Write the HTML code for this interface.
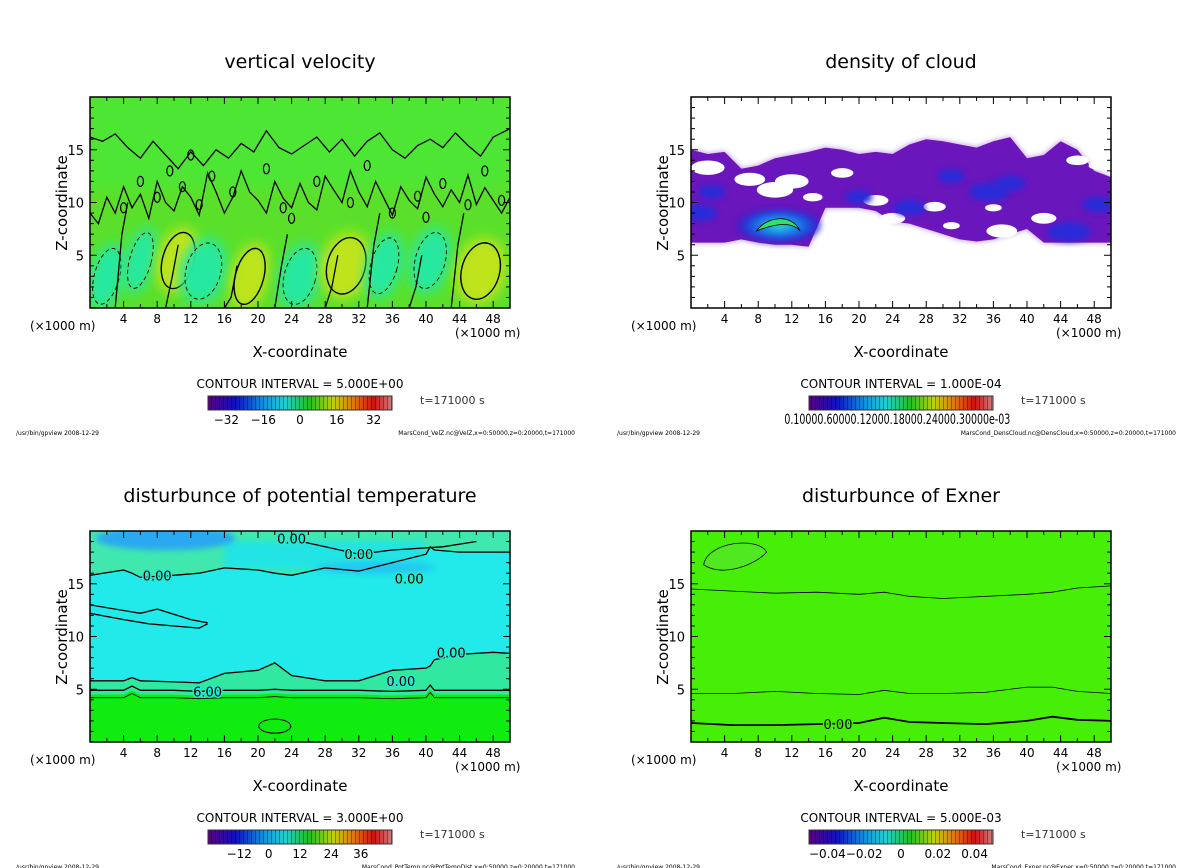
<!DOCTYPE html>
<html><head><meta charset="utf-8">
<style>
html,body{margin:0;padding:0;background:#fff;}
svg{display:block;font-family:"DejaVu Sans","Liberation Sans",sans-serif;}
</style></head>
<body>
<svg id="fig" width="1200" height="868" viewBox="0 0 1200 868" xmlns="http://www.w3.org/2000/svg">
<defs>
<filter id="blur6" x="-50%" y="-50%" width="200%" height="200%"><feGaussianBlur stdDeviation="6"/></filter>
<filter id="blur3" x="-50%" y="-50%" width="200%" height="200%"><feGaussianBlur stdDeviation="3"/></filter>
<linearGradient id="cbar" x1="0" x2="1" y1="0" y2="0">
<stop offset="0" stop-color="#5a0080"/><stop offset="0.15" stop-color="#1010c0"/><stop offset="0.3" stop-color="#1090e0"/>
<stop offset="0.42" stop-color="#20d0d0"/><stop offset="0.55" stop-color="#20c020"/><stop offset="0.68" stop-color="#c0d010"/>
<stop offset="0.8" stop-color="#e07010"/><stop offset="0.9" stop-color="#d01010"/><stop offset="1" stop-color="#d08080"/>
</linearGradient>
<radialGradient id="cloudcore"><stop offset="0" stop-color="#30e0a0"/><stop offset="0.3" stop-color="#20a0f0"/><stop offset="0.7" stop-color="#1a50e0"/><stop offset="1" stop-color="#2a20c8" stop-opacity="0.6"/></radialGradient>
<pattern id="stripes" width="4" height="10" patternUnits="userSpaceOnUse"><rect x="3" width="1" height="10" fill="rgba(0,0,0,0.35)"/></pattern>
</defs>
</svg>
<script>
// ---- data (x in km, z in km) ----
const xTicks=[4,8,12,16,20,24,28,32,36,40,44,48];
const zTicks=[5,10,15];
// vertical velocity anomalies
const wX=[2,6,10.5,13.5,19,25,30.5,35,40.5,46.5];
const wZ=[3,4.5,4.5,3.5,3,3,4,4,4.5,3.5];
const wV=[-6,-4,10,-12,8,-10,14,-7,-9,14];
// irregular zero contours of w (hand-read)
const wLowX=[0,1,2,3,4,5,6,7,8,9,10,11,12,13,14,15,16,17,18,19,20,21,22,23,24,25,26,27,28,29,30,31,32,33,34,35,36,37,38,39,40,41,42,43,44,45,46,47,48,49,50];
const wLowZ=[9,8,10.5,9,11.5,9.5,10.8,8.5,12,10,9.2,11.5,10.5,8.8,12.8,11,9,10.5,13,11,10.2,9,12,10.4,9.5,11.8,10,9.3,12.5,11.2,10,13,11,9.6,12,10.4,8.8,11.5,10.2,9.4,12.4,10.8,9.6,11.2,10,12.6,9.8,11.4,10.2,9,10.5];
const wHiX=[0,1.5,3,4.5,6,7.5,9,10.5,12,13.5,15,16.5,18,19.5,21,22.5,24,25.5,27,28.5,30,31.5,33,34.5,36,37.5,39,40.5,42,43.5,45,46.5,48,50];
const wHiZ=[16.2,15.8,16.5,15.2,14.2,15.8,14.5,13.2,14.8,13.5,15,14.2,15.6,14.8,16.8,15.2,14.6,15.4,16.2,14.8,16,14.4,15.8,16.6,15,14.2,15.4,16,15.2,16.6,15.4,14.4,16.2,17];
const wLoopX=[4,6,8,9.5,11,12,13,14.5,17,21,23,24,27,31,33,36,39,40,42,45,47,49];
const wLoopZ=[9.5,12,10.5,13,11.5,14.5,9.8,12.5,11,13.2,9.5,8.5,12,10,13.5,9,10.6,8.6,11.8,9.8,13,10.2];
// cloud band top/bottom
const cloudXs=[0,2,4,6,8,10,12,14,16,18,20,22,24,26,28,30,32,34,36,38,40,42,44,46,48,50];
const cloudTop=[15,14.6,14.8,13.2,13.5,14.2,14.5,14.8,15.2,15,14.6,14.8,14.6,15.5,16,15.8,15.5,15.2,15.8,16.2,14.2,14.5,15.8,15,13,12.4];
const cloudBot=[6.2,6.2,6.2,6.5,6.2,6,6,5.8,9.5,9.5,9.5,9.2,8.2,8,7.5,7,6.5,6.3,6.5,7,7.5,6.2,6.2,6.2,6.2,6.2];
const cblobX=[1,10.5,20,26,35.5,38,48.5,45,31,2.5];
const cblobZ=[9,7.8,10.5,9.5,11,11.8,9.8,7.2,12.5,11];
const cblobV=[1.8,5,1.2,1.6,2.2,1.5,1.6,2.4,1.2,1.2];
const holeX=[2,7,10,12,18,22,24,29,37,42,46,48.5,31,14.5,36];
const holeZ=[13.3,12.2,11.2,12,12.8,10.2,8.5,9.6,7.3,8.5,14,13.5,7.8,10.5,9.5];
const holeR=[1.2,1.1,1.3,1.2,0.8,0.9,0.9,0.8,1.1,0.9,0.8,0.7,0.6,0.7,0.6];
// potential temperature interfaces
const thX=[0,4,5,6,10,13,16,20,22,24,28,32,36,40,40.5,41,44,48,50];
const thBand=[4.5,4.5,4.9,4.5,4.5,4.4,4.5,4.5,4.6,4.5,4.5,4.5,4.4,4.5,5,4.5,4.5,4.5,4.5];
const thZero=[5.8,5.8,6.1,5.8,5.7,5.6,6.5,6.8,7.5,6.3,5.8,5.8,6.8,7,7.2,7.8,8.3,8.5,8.4];
const thUpper=[15.8,16.3,16,15.6,15.8,16,16.5,16.3,16,15.8,16.5,16.2,17,17.8,18.5,18.2,18,18,18];
// exner contours
const exX=[0,5,10,15,20,23,26,30,35,40,43,46,50];
const exLow=[1.8,1.6,1.6,1.7,1.8,2.3,1.9,1.8,1.7,2,2.4,2.1,2];
const exMid=[4.6,4.6,4.8,4.6,4.5,4.9,4.6,4.6,4.7,5.2,5.2,4.8,4.6];
const exHi=[14.5,14.3,14.1,14.2,14,14.2,13.8,13.6,13.8,14,14.2,14.6,14.8];

const svg=document.getElementById('fig');
const NS='http://www.w3.org/2000/svg';
function mk(tag,attrs,parent){const e=document.createElementNS(NS,tag);for(const k in attrs)e.setAttribute(k,attrs[k]);(parent||svg).appendChild(e);return e;}
function txt(x,y,s,size,anchor,parent,extra){const t=mk('text',Object.assign({x:x,y:y,'font-size':size,'text-anchor':anchor||'middle',fill:'#000'},extra||{}),parent);t.textContent=s;return t;}

function panel(ox,oy,title,name){
  const L=90+ox,R=510+ox,T=97+oy,B=308+oy;
  const sx=v=>L+(R-L)*v/50, sz=v=>B-(B-T)*v/20;
  const g=mk('g',{});
  
  
  const clipId='clip'+name;
  const cp=mk('clipPath',{id:clipId},g);mk('rect',{x:L,y:T,width:R-L,height:B-T},cp);
  const plot=mk('g',{'clip-path':'url(#'+clipId+')'},g);
  
  
  return {g,plot,L,R,T,B,sx,sz,ox,oy,title,name};
}
function frame(p,cbLabels,cbPos,ci,file,cbExtra){
  const {g,L,R,T,B,sx,sz,ox,oy}=p;
  const f=mk('rect',{x:L,y:T,width:R-L,height:B-T,fill:'none',stroke:'#000','stroke-width':1.5},g);
  
  for(let v=2;v<50;v+=2){const x=sx(v),len=(v%4==0)?7:4;mk('line',{x1:x,x2:x,y1:B,y2:B-len,stroke:'#000'},g);mk('line',{x1:x,x2:x,y1:T,y2:T+len,stroke:'#000'},g);}
  for(let v=1;v<20;v++){const y=sz(v),len=(v%5==0)?7:4;mk('line',{x1:L,x2:L+len,y1:y,y2:y,stroke:'#000'},g);mk('line',{x1:R,x2:R-len,y1:y,y2:y,stroke:'#000'},g);}
  xTicks.forEach(v=>{const t=txt(sx(v),B+15,String(v),12,'middle',g);});
  zTicks.forEach(v=>{const t=txt(L-6,sz(v)+5,String(v),13,'end',g);});
  let t=txt(30+ox,B+22,'(×1000 m)',12,'start',g);
  t=txt(455+ox,B+29,'(×1000 m)',12,'start',g);
  t=txt(300+ox,B+49,'X-coordinate',15,'middle',g);
  t=txt(0,0,'Z-coordinate',15,'middle',g,{transform:'translate('+(67+ox)+','+(203+oy)+') rotate(-90)'});
  t=txt(300+ox,68+oy,p.title,19,'middle',g);
  t=txt(300+ox,388+oy,'CONTOUR INTERVAL = '+ci,12,'middle',g);
  const cb=mk('g',{},g);
  mk('rect',{x:208+ox,y:396+oy,width:184,height:14,fill:'url(#cbar)'},cb);
  mk('rect',{x:208+ox,y:396+oy,width:184,height:14,fill:'url(#stripes)'},cb);
  mk('rect',{x:208+ox,y:396+oy,width:184,height:14,fill:'none',stroke:'#333'},cb);
  cbLabels.forEach((s,i)=>{const tt=txt(208+ox+184*cbPos[i],424+oy,s,12,'middle',cb,cbExtra||{});});
  t=txt(420+ox,404+oy,'t=171000 s',11,'start',g,{fill:'#333'});
  t=txt(16+ox,435+oy,'/usr/bin/gpview  2008-12-29',6,'start',g);
  t=txt(575+ox,435+oy,file,6,'end',g);
}
function line(p,xs,zs,attrs){
  const d=xs.map((v,i)=>(i?'L':'M')+p.sx(v).toFixed(1)+','+p.sz(zs[i]).toFixed(1)).join(' ');
  return mk('path',Object.assign({d:d,fill:'none',stroke:'#000','stroke-width':1.3},attrs||{}),p.plot);
}

// ---- Panel 1: vertical velocity ----
const p1=panel(0,0,'vertical velocity','vertical-velocity');
mk('rect',{x:p1.L,y:p1.T,width:420,height:211,fill:'#5ae02a'},p1.plot);
mk('rect',{x:p1.L,y:p1.T,width:420,height:90,fill:'#4ee634',filter:'url(#blur6)'},p1.plot);
wX.forEach((x,i)=>{
  const c=wV[i]>0?'#c0e41c':'#28e8a0';const rx=Math.abs(wV[i])*0.13+1.2, rz=3.2;
  const cx=p1.sx(x),cy=p1.sz(wZ[i]),RX=p1.sx(rx)-p1.L,RY=p1.B-p1.sz(rz);
  const e=mk('ellipse',{cx:cx,cy:cy,rx:RX,ry:RY,fill:c,filter:'url(#blur6)',transform:`rotate(15 ${cx} ${cy})`},p1.plot);
  
  const o=mk('ellipse',{cx:cx,cy:cy,rx:RX*0.75,ry:RY*0.85,fill:'none',stroke:'#000','stroke-width':wV[i]>0?1.4:0.9,'stroke-dasharray':wV[i]>0?'none':'4,3',transform:`rotate(15 ${cx} ${cy})`},p1.plot);
  
});
line(p1,wLowX,wLowZ);
line(p1,wHiX,wHiZ);
wLoopX.forEach((x,i)=>{const c=mk('ellipse',{cx:p1.sx(x),cy:p1.sz(wLoopZ[i]),rx:3,ry:5,fill:'none',stroke:'#000','stroke-width':1.2},p1.plot);});
[[3,7],[9,3],[16,1],[22,4],[28,2],[33,6],[38,2],[43,6]].forEach(s=>{line(p1,[s[0],s[0]+0.8,s[0]+1.5],[0,s[1],s[1]+3]);});

// ---- Panel 2: density of cloud ----
const p2=panel(601,0,'density of cloud','density-of-cloud');
const bandD=cloudXs.map((x,i)=>(i?'L':'M')+p2.sx(x)+','+p2.sz(cloudTop[i])).join(' ')+' '+cloudXs.slice().reverse().map((x,j)=>'L'+p2.sx(x)+','+p2.sz(cloudBot[cloudXs.length-1-j])).join(' ')+'Z';
const band=mk('path',{d:bandD,fill:'#7a16b8'},p2.plot);
mk('path',{d:bandD,fill:'#5a18c0',opacity:0.5,filter:'url(#blur3)'},p2.plot);
holeX.forEach((x,i)=>{const h=mk('ellipse',{cx:p2.sx(x),cy:p2.sz(holeZ[i]),rx:holeR[i]*14,ry:holeR[i]*6,fill:'#fff'},p2.plot);});
cblobX.forEach((x,i)=>{const v=cblobV[i];const big=v>3;const e=mk('ellipse',{cx:p2.sx(x),cy:p2.sz(cblobZ[i]),rx:big?42:v*7+5,ry:big?17:v*2.4+4,fill:big?'url(#cloudcore)':'#2a2ad8',filter:'url(#blur3)'},p2.plot);});
mk('path',{d:`M${p2.sx(7.8)},${p2.sz(7.3)} C${p2.sx(9)},${p2.sz(8.7)} ${p2.sx(12)},${p2.sz(9)} ${p2.sx(13)},${p2.sz(7.3)} C${p2.sx(12)},${p2.sz(8.2)} ${p2.sx(10)},${p2.sz(8)} ${p2.sx(7.8)},${p2.sz(7.3)}Z`,fill:'#30e070',stroke:'#000','stroke-width':0.8},p2.plot);

// ---- Panel 3: potential temperature ----
const p3=panel(0,434,'disturbunce of potential temperature','potential-temperature');
mk('rect',{x:p3.L,y:p3.T,width:420,height:211,fill:'#22eaea'},p3.plot);
const up=thX.map((x,i)=>(i?'L':'M')+p3.sx(x)+','+p3.sz(thUpper[i])).join(' ')+` L${p3.R},${p3.T} L${p3.L},${p3.T}Z`;
mk('path',{d:up,fill:'#40e8b0'},p3.plot);
mk('rect',{x:p3.sx(16),y:p3.sz(19),width:200,height:28,fill:'#22e4e4',filter:'url(#blur3)'},p3.plot);
mk('ellipse',{cx:p3.sx(9),cy:p3.sz(19.3),rx:70,ry:12,fill:'#2aa8f0',filter:'url(#blur3)'},p3.plot);
mk('ellipse',{cx:p3.sx(34),cy:p3.sz(16.5),rx:60,ry:6,fill:'#22c8f0',filter:'url(#blur3)'},p3.plot);
const lowD=thX.map((x,i)=>(i?'L':'M')+p3.sx(x)+','+p3.sz(thZero[i])).join(' ')+` L${p3.R},${p3.B} L${p3.L},${p3.B}Z`;
mk('path',{d:lowD,fill:'#30e8a0'},p3.plot);
const bandD3=thX.map((x,i)=>(i?'L':'M')+p3.sx(x)+','+p3.sz(thBand[i])).join(' ')+` L${p3.R},${p3.B} L${p3.L},${p3.B}Z`;
mk('path',{d:bandD3,fill:'#10ec10'},p3.plot);
line(p3,thX,thZero);
line(p3,thX,thBand.map(v=>v+0.4));
line(p3,thX,thBand.map(v=>v-0.3),{'stroke-width':0.8});
line(p3,thX,thUpper);
line(p3,[0,3,6,8,12,14],[13,12.6,12.2,12.6,11.6,11.3]);
line(p3,[0,4,7,10,13,14],[12.2,11.6,11.2,11,10.8,11.2]);
line(p3,[24,28,32,36,42,46],[19.2,18.5,17.8,18.2,18.5,19]);
mk('ellipse',{cx:p3.sx(22),cy:p3.sz(1.5),rx:16,ry:7,fill:'none',stroke:'#000','stroke-width':1},p3.plot);
[[24,19.3,'0.00'],[32,17.8,'0.00'],[38,15.5,'0.00'],[37,5.8,'0.00'],[14,4.8,'6.00'],[8,15.8,'0.00'],[43,8.5,'0.00']].forEach(l=>{const t=txt(p3.sx(l[0]),p3.sz(l[1])+5,l[2],13,'middle',p3.plot,{'paint-order':'stroke',stroke:'#2ae8d0','stroke-width':3});});

// ---- Panel 4: Exner ----
const p4=panel(601,434,'disturbunce of Exner','exner');
mk('rect',{x:p4.L,y:p4.T,width:420,height:211,fill:'#46ee08'},p4.plot);
line(p4,exX,exLow,{'stroke-width':1.8});
line(p4,exX,exMid,{'stroke-width':0.8});
line(p4,exX,exHi,{'stroke-width':0.8});
mk('path',{d:`M${p4.sx(1.5)},${p4.sz(16.8)} C${p4.sx(2)},${p4.sz(19)} ${p4.sx(8)},${p4.sz(19.5)} ${p4.sx(9)},${p4.sz(18)} C${p4.sx(8)},${p4.sz(17)} ${p4.sx(4)},${p4.sz(15.5)} ${p4.sx(1.5)},${p4.sz(16.8)}Z`,fill:'#50e820',stroke:'#000','stroke-width':0.8},p4.plot);
{const t=txt(p4.sx(17.5),p4.sz(1.7)+5,'0.00',13,'middle',p4.plot,{'paint-order':'stroke',stroke:'#46ee08','stroke-width':3});}

frame(p1,['−32','−16','0','16','32'],[0.1,0.3,0.5,0.7,0.9],'5.000E+00','MarsCond_VelZ.nc@VelZ,x=0:50000,z=0:20000,t=171000');
frame(p2,['0.10000.60000.12000.18000.24000.30000e-03'],[0.48],'1.000E-04','MarsCond_DensCloud.nc@DensCloud,x=0:50000,z=0:20000,t=171000',{textLength:226,lengthAdjust:'spacingAndGlyphs','font-size':14});
frame(p3,['−12','0','12','24','36'],[0.17,0.33,0.5,0.67,0.83],'3.000E+00','MarsCond_PotTemp.nc@PotTempDist,x=0:50000,z=0:20000,t=171000');
frame(p4,['−0.04','−0.02','0','0.02','0.04'],[0.1,0.3,0.5,0.7,0.9],'5.000E-03','MarsCond_Exner.nc@Exner,x=0:50000,z=0:20000,t=171000');
</script>
</body></html>
